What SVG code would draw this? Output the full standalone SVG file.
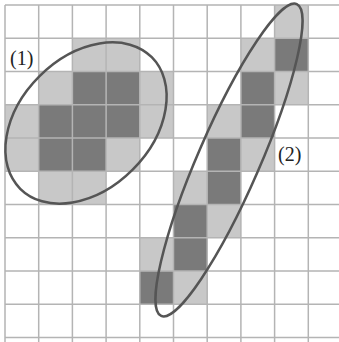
<svg xmlns="http://www.w3.org/2000/svg" width="339" height="342" viewBox="0 0 339 342">
<style>
.l{fill:#c8c8c8}
.d{fill:#7a7a7a}
.g{stroke:#b4b4b4;stroke-width:1.5;fill:none}
.e{fill:none;stroke:#555;stroke-width:2.5}
.t{font-family:"Liberation Serif",serif;font-size:20px;fill:#222}
</style>
<rect width="339" height="342" fill="#fff"/>
<g id="cells">
<rect class="l" x="72.4" y="38.3" width="33.7" height="33.3"/>
<rect class="l" x="106.1" y="38.3" width="33.7" height="33.3"/>
<rect class="l" x="38.7" y="71.5" width="33.7" height="33.3"/>
<rect class="d" x="72.4" y="71.5" width="33.7" height="33.3"/>
<rect class="d" x="106.1" y="71.5" width="33.7" height="33.3"/>
<rect class="l" x="139.8" y="71.5" width="33.7" height="33.3"/>
<rect class="l" x="5" y="104.8" width="33.7" height="33.3"/>
<rect class="d" x="38.7" y="104.8" width="33.7" height="33.3"/>
<rect class="d" x="72.4" y="104.8" width="33.7" height="33.3"/>
<rect class="d" x="106.1" y="104.8" width="33.7" height="33.3"/>
<rect class="l" x="139.8" y="104.8" width="33.7" height="33.3"/>
<rect class="l" x="5" y="138" width="33.7" height="33.3"/>
<rect class="d" x="38.7" y="138" width="33.7" height="33.3"/>
<rect class="d" x="72.4" y="138" width="33.7" height="33.3"/>
<rect class="l" x="106.1" y="138" width="33.7" height="33.3"/>
<rect class="l" x="38.7" y="171.3" width="33.7" height="33.3"/>
<rect class="l" x="72.4" y="171.3" width="33.7" height="33.3"/>
<rect class="l" x="274.6" y="5" width="33.7" height="33.3"/>
<rect class="l" x="240.9" y="38.3" width="33.7" height="33.3"/>
<rect class="d" x="274.6" y="38.3" width="33.7" height="33.3"/>
<rect class="d" x="240.9" y="71.5" width="33.7" height="33.3"/>
<rect class="l" x="274.6" y="71.5" width="33.7" height="33.3"/>
<rect class="l" x="207.2" y="104.8" width="33.7" height="33.3"/>
<rect class="d" x="240.9" y="104.8" width="33.7" height="33.3"/>
<rect class="d" x="207.2" y="138" width="33.7" height="33.3"/>
<rect class="l" x="240.9" y="138" width="33.7" height="33.3"/>
<rect class="l" x="173.5" y="171.3" width="33.7" height="33.3"/>
<rect class="d" x="207.2" y="171.3" width="33.7" height="33.3"/>
<rect class="d" x="173.5" y="204.6" width="33.7" height="33.3"/>
<rect class="l" x="207.2" y="204.6" width="33.7" height="33.3"/>
<rect class="l" x="139.8" y="237.8" width="33.7" height="33.3"/>
<rect class="d" x="173.5" y="237.8" width="33.7" height="33.3"/>
<rect class="d" x="139.8" y="271.1" width="33.7" height="33.3"/>
<rect class="l" x="173.5" y="271.1" width="33.7" height="33.3"/>
</g>
<g id="grid" class="g">
<path d="M5 5V342M38.7 5V342M72.4 5V342M106.1 5V342M139.8 5V342M173.5 5V342M207.2 5V342M240.9 5V342M274.6 5V342M308.3 5V342"/>
<path d="M5 5H339M5 38.3H339M5 71.5H339M5 104.8H339M5 138H339M5 171.3H339M5 204.6H339M5 237.8H339M5 271.1H339M5 304.3H339M5 337.6H339"/>
</g>
<g id="region1">
<ellipse class="e" cx="86" cy="123" rx="93" ry="66" transform="rotate(-45 86 123)"/>
<text class="t" x="10" y="65">(1)</text>
</g>
<g id="region2">
<ellipse class="e" cx="229" cy="160" rx="170" ry="31" transform="rotate(-66.5 229 160)"/>
<text class="t" x="278" y="161">(2)</text>
</g>
</svg>
